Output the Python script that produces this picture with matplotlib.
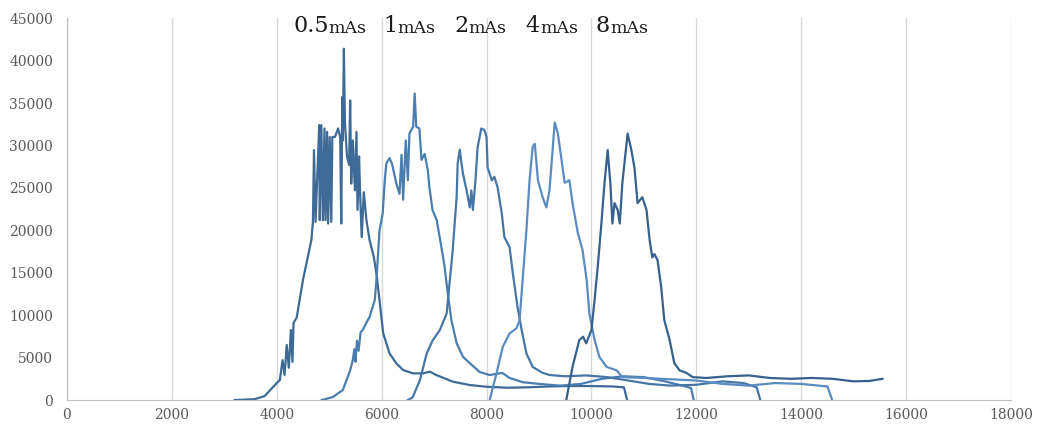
import matplotlib
matplotlib.use("Agg")
import matplotlib.pyplot as plt

# histogram traces (x = pixel value, y = count)
a_x = [3200, 3580, 3770, 4000, 4060, 4110, 4150, 4190, 4230, 4270, 4300, 4320, 4380, 4500, 4660, 4690,
       4710, 4740, 4810, 4820, 4850, 4880, 4910, 4930, 4960, 4980, 5010, 5040, 5060, 5110, 5170, 5210,
       5230, 5250, 5260, 5280, 5300, 5340, 5380, 5400, 5420, 5450, 5490, 5520, 5540, 5570, 5590, 5620,
       5660, 5710, 5770, 5850, 5910, 6030, 6150, 6280, 6410, 6600, 6790, 6920, 7040, 7360, 7680, 7990,
       8400, 8800, 9200, 9600, 10000, 10400, 10620, 10680]
a_y = [0, 100, 470, 2000, 2360, 4700, 2950, 6500, 3800, 8250, 4500, 9100, 9700, 14140, 18850, 21000,
       29450, 21000, 32400, 21200, 32400, 21200, 32000, 21200, 31600, 20800, 31000, 21000, 31000, 31000, 32000, 31000,
       20800, 35700, 30600, 41400, 32600, 28700, 27700, 35300, 25500, 30600, 24700, 31600, 22400, 28700, 24300, 19200,
       24500, 21200, 18850, 16900, 14500, 7850, 5500, 4320, 3530, 3140, 3140, 3340, 2950, 2160, 1770, 1570,
       1450, 1500, 1600, 1650, 1650, 1600, 1500, 0]

b_x = [4860, 5070, 5260, 5400, 5450, 5480, 5500, 5530, 5560, 5600, 5640, 5700, 5770, 5870, 5900, 5960,
       6020, 6060, 6090, 6150, 6200, 6280, 6340, 6380, 6410, 6460, 6500, 6530, 6600, 6630, 6660, 6720,
       6760, 6820, 6880, 6910, 6970, 7050, 7140, 7200, 7260, 7330, 7430, 7550, 7680, 7870, 8060, 8300,
       8440, 8690, 9000, 9400, 9800, 10200, 10600, 11000, 11400, 11800, 11900, 11950]
b_y = [0, 350, 1180, 3500, 4700, 6000, 4500, 7000, 5800, 8000, 8250, 9000, 9800, 11800, 14100, 20000,
       22000, 25900, 27900, 28500, 27800, 25500, 24300, 28900, 23600, 30600, 25900, 31400, 32200, 36100, 32200, 32000,
       28300, 29000, 27100, 25100, 22400, 21200, 18000, 15700, 12600, 9400, 6700, 5100, 4350, 3300, 2950, 3200,
       2600, 2100, 1900, 1700, 1900, 2500, 2800, 2700, 2200, 1600, 1400, 0]

c_x = [6500, 6590, 6730, 6860, 6970, 7110, 7240, 7300, 7350, 7430, 7450, 7490, 7520, 7550, 7620, 7680,
       7710, 7740, 7790, 7830, 7900, 7960, 8000, 8020, 8100, 8150, 8210, 8290, 8340, 8440, 8500, 8590,
       8670, 8760, 8880, 9070, 9200, 9500, 9900, 10300, 10700, 11100, 11500, 12000, 12500, 12900, 13150, 13220]
c_y = [0, 300, 2350, 5500, 7000, 8250, 10200, 14100, 17300, 23900, 27900, 29500, 28000, 26700, 24700, 22700,
       24700, 22400, 26000, 29800, 32000, 31800, 31000, 27400, 25900, 26300, 25100, 22000, 19200, 18000, 15000, 11000,
       8250, 5500, 3900, 3200, 2950, 2800, 2900, 2700, 2300, 1900, 1700, 1800, 2200, 2000, 1500, 0]

d_x = [8060, 8190, 8310, 8440, 8570, 8630, 8760, 8820, 8880, 8920, 8980, 9070, 9140, 9200, 9260, 9300,
       9360, 9430, 9490, 9580, 9640, 9740, 9830, 9910, 9960, 10060, 10150, 10290, 10480, 10590, 11000, 11500,
       12000, 12500, 13000, 13500, 14000, 14500, 14590]
d_y = [0, 3140, 6280, 7850, 8440, 9420, 20000, 25900, 29840, 30200, 25900, 23900, 22700, 24700, 29500, 32700,
       31400, 28300, 25600, 25900, 23200, 19700, 17700, 14100, 10200, 7100, 5100, 3900, 3500, 2700, 2600, 2450,
       2300, 1900, 1700, 2000, 1900, 1600, 0]

e_x = [9520, 9640, 9770, 9840, 9900, 10000, 10060, 10120, 10190, 10250, 10310, 10360, 10400, 10440, 10500, 10540,
       10590, 10690, 10760, 10820, 10880, 10970, 11050, 11110, 11160, 11200, 11260, 11330, 11390, 11490, 11580, 11680,
       11810, 11930, 12190, 12600, 13000, 13400, 13800, 14200, 14600, 15000, 15300, 15550]
e_y = [0, 3930, 7070, 7460, 6680, 8250, 11800, 15700, 20800, 25600, 29450, 25600, 20800, 23200, 22400, 20800,
       25600, 31400, 29500, 27400, 23200, 23900, 22400, 18850, 16800, 17200, 16500, 13300, 9400, 7100, 4350, 3500,
       3200, 2700, 2600, 2800, 2900, 2600, 2500, 2600, 2500, 2200, 2250, 2500]

series_x = [a_x, b_x, c_x, d_x, e_x]
series_y = [a_y, b_y, c_y, d_y, e_y]
line_colors = ['#3d6a96', '#4a7db0', '#4676a6', '#5a8cc2', '#36618c']

# annotation labels above the peaks
label_nums = ['0.5', '1', '2', '4', '8']
label_x = [4310, 6040, 7390, 8750, 10080]
label_y = 43350

fig = plt.figure(figsize=(10.38, 4.32), dpi=100)
ax = fig.add_axes([0.0645, 0.074, 0.9095, 0.884])

for xs, ys, c in zip(series_x, series_y, line_colors):
    ax.plot(xs, ys, color=c, lw=1.6, solid_joinstyle='round')

ax.set_xlim(0, 18000)
ax.set_ylim(0, 45000)
ax.set_xticks(range(0, 18001, 2000))
ax.set_yticks(range(0, 45001, 5000))
ax.grid(axis='x', color='#d9d9d9', lw=1)
ax.set_axisbelow(True)
for s in ['top', 'right']:
    ax.spines[s].set_visible(False)
for s in ['left', 'bottom']:
    ax.spines[s].set_color('#bfbfbf')
ax.tick_params(length=0, colors='#595959', labelsize=10)
ax.tick_params(axis='x', pad=6)
ax.tick_params(axis='y', pad=10)
for lab in ax.get_xticklabels() + ax.get_yticklabels():
    lab.set_family('DejaVu Serif')

for num, lx in zip(label_nums, label_x):
    t = ax.text(lx, label_y, num, fontsize=16, family='DejaVu Serif', va='baseline', color='#1a1a1a')
    ax.annotate('mAs', xy=(1, 0), xycoords=t, va='bottom', ha='left',
                fontsize=12.5, family='DejaVu Serif', color='#1a1a1a')

fig.savefig('out.png', dpi=100)
